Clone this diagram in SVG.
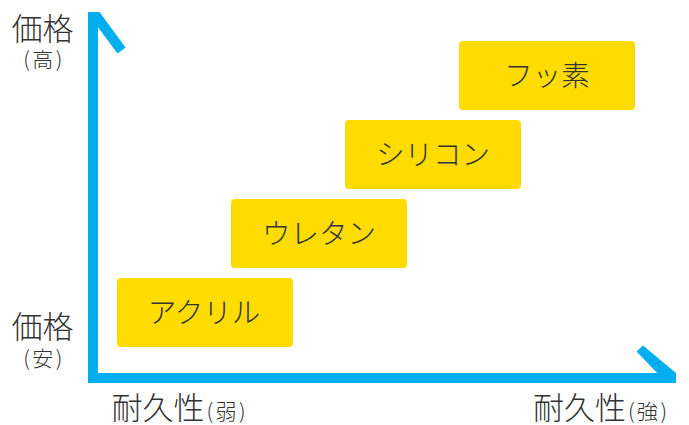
<svg xmlns="http://www.w3.org/2000/svg" width="689" height="425" viewBox="0 0 689 425">
<style>
.ax{fill:#00AEEF}
.box{fill:#FFDC00}
.t{font-family:"Noto Sans CJK JP","Noto Sans",sans-serif;fill:#333;font-weight:300}
.bl{font-size:28.5px;text-anchor:middle}
.big{font-size:31px}
.sm{font-size:21px;letter-spacing:2.5px}
</style>
<rect width="689" height="425" fill="#fff"/>
<g id="axes">
<rect class="ax" x="88" y="12" width="10" height="371"/>
<rect class="ax" x="88" y="373" width="588" height="10"/>
<polygon class="ax" points="93,12 99.5,12 125.5,47.5 117.5,53.5 93,20.5"/>
<polygon class="ax" points="636.5,351.5 643,345.5 676,373 676,378 662,378"/>
</g>
<g id="node-acrylic">
<rect class="box" x="117" y="278" width="176" height="69" rx="4"/>
<text class="t bl" x="204" y="323">アクリル</text>
</g>
<g id="node-urethane">
<rect class="box" x="231" y="199" width="176" height="69" rx="4"/>
<text class="t bl" x="319" y="244">ウレタン</text>
</g>
<g id="node-silicone">
<rect class="box" x="345" y="120" width="176" height="69" rx="4"/>
<text class="t bl" x="433" y="165">シリコン</text>
</g>
<g id="node-fluorine">
<rect class="box" x="459" y="41" width="176" height="69" rx="4"/>
<text class="t bl" x="547" y="86">フッ素</text>
</g>
<g id="labels">
<text class="t big" x="11.5" y="40">価格</text>
<text class="t sm" x="44" y="67" text-anchor="middle">(高)</text>
<text class="t big" x="11.5" y="338">価格</text>
<text class="t sm" x="44" y="366" text-anchor="middle">(安)</text>
<text class="t big" x="111.5" y="418.5">耐久性<tspan class="sm" dx="2">(弱)</tspan></text>
<text class="t big" x="533" y="418.5">耐久性<tspan class="sm" dx="2">(強)</tspan></text>
</g>
</svg>
